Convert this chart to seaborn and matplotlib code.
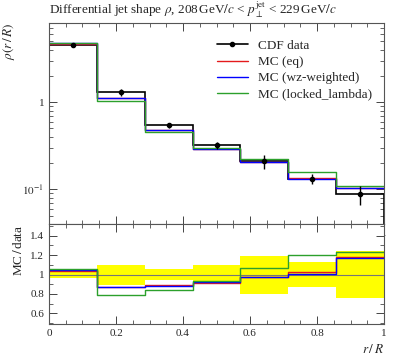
import numpy as np
import pandas as pd
import matplotlib
matplotlib.use("Agg")
import matplotlib.pyplot as plt
import seaborn as sns
from matplotlib.ticker import MultipleLocator, FuncFormatter, LogLocator

# bin edges in r/R
edges = [0.0, 1 / 7, 2 / 7, 3 / 7, 4 / 7, 5 / 7, 6 / 7, 1.0]

# CDF data and errors
data_val = [4.52, 1.30, 0.544, 0.320, 0.210, 0.132, 0.0877]
data_err = [0.14, 0.13, 0.033, 0.032, 0.040, 0.017, 0.021]

# MC predictions
mc_eq = [4.70, 1.13, 0.484, 0.291, 0.204, 0.136, 0.104]
mc_wz = [4.75, 1.13, 0.479, 0.294, 0.204, 0.133, 0.103]
mc_locked = [4.79, 1.03, 0.457, 0.298, 0.225, 0.158, 0.108]

# data uncertainty band in the ratio panel
ratio_lo = [0.965, 0.89, 0.94, 0.91, 0.80, 0.87, 0.76]
ratio_hi = [1.035, 1.10, 1.06, 1.10, 1.19, 1.13, 1.24]

mc_names = ["MC (eq)", "MC (wz-weighted)", "MC (locked_lambda)"]
mc_colors = ["#e41a1c", "#0000ff", "#2ca02c"]

sns.set_style("ticks")
plt.rcParams["font.family"] = ["Liberation Serif", "DejaVu Serif"]
plt.rcParams["mathtext.fontset"] = "stix"
plt.rcParams["font.size"] = 9

edges = np.array(edges)
centers = 0.5 * (edges[:-1] + edges[1:])
data_val = np.array(data_val)
data_err = np.array(data_err)


def steps_frame(vals, name):
    v = list(vals) + [vals[-1]]
    return pd.DataFrame({"x": edges, "y": v, "sample": name})


fig = plt.figure(figsize=(3.97, 3.58), dpi=100)
ax = fig.add_axes([0.1234, 0.374, 0.844, 0.562])
rax = fig.add_axes([0.1234, 0.095, 0.844, 0.279], sharex=ax)

# main panel
main_df = pd.concat([steps_frame(v, n) for v, n in zip([mc_eq, mc_wz, mc_locked], mc_names)])
sns.lineplot(data=main_df, x="x", y="y", hue="sample", palette=mc_colors,
             drawstyle="steps-post", lw=1.0, ax=ax, legend=False, estimator=None)
ax.stairs(data_val, edges, color="black", lw=1.2)
ax.errorbar(centers, data_val, yerr=data_err, fmt="o", color="black", ms=3, lw=1)
ax.set_yscale("log")
ax.set_ylim(0.04, 8.1)
ax.set_xlim(0, 1)

handles = [plt.Line2D([], [], color="black", marker="o", ms=3, lw=1.2)]
handles += [plt.Line2D([], [], color=c, lw=1.0) for c in mc_colors]
ax.legend(handles, ["CDF data"] + mc_names, loc="upper right", frameon=False,
          bbox_to_anchor=(1.0, 0.975), handlelength=2.3, labelspacing=0.3, fontsize=9.5)

ax.set_ylabel(r"$\rho(r\,/\,R)$", loc="top", fontsize=9.5)
ax.set_title(r"Differential jet shape $\rho$, 208$\,$GeV$/c$ < $p_\perp^{\rm jet}$ < 229$\,$GeV$/c$",
             loc="left", fontsize=9.5, pad=6)
ax.yaxis.set_major_formatter(FuncFormatter(lambda v, p: "1" if abs(v - 1) < 1e-9 else (r"$10^{-1}$" if abs(v - 0.1) < 1e-9 else "")))
ax.yaxis.set_minor_locator(LogLocator(base=10, subs=np.arange(2, 10)))
ax.yaxis.set_minor_formatter(FuncFormatter(lambda v, p: ""))
plt.setp(ax.get_xticklabels(), visible=False)

# ratio panel
rax.fill_between(edges, ratio_lo + [ratio_lo[-1]], ratio_hi + [ratio_hi[-1]],
                 step="post", color="#ffff00", lw=0)
rax.axhline(1.0, color="#777777", lw=0.8)
ratio_df = pd.concat([steps_frame(np.array(v) / data_val, n)
                      for v, n in zip([mc_eq, mc_wz, mc_locked], mc_names)])
sns.lineplot(data=ratio_df, x="x", y="y", hue="sample", palette=mc_colors,
             drawstyle="steps-post", lw=1.0, ax=rax, legend=False, estimator=None)
rax.set_ylim(0.49, 1.52)
rax.set_xlim(0, 1)
rax.set_ylabel("MC$\\,/\\,$data", loc="top", fontsize=9.5)
rax.set_xlabel(r"$r\,/\,R$", loc="right", fontsize=9.5)
rax.yaxis.set_major_locator(MultipleLocator(0.2))
rax.yaxis.set_minor_locator(MultipleLocator(0.1))
rax.yaxis.set_major_formatter(FuncFormatter(lambda v, p: f"{v:g}"))
rax.xaxis.set_major_locator(MultipleLocator(0.2))
rax.xaxis.set_minor_locator(MultipleLocator(0.05))
rax.xaxis.set_major_formatter(FuncFormatter(lambda v, p: f"{v:g}"))

for a in (ax, rax):
    a.tick_params(which="both", direction="in", top=True, right=True, labelsize=8)
    a.tick_params(which="major", length=6, width=0.6)
    a.tick_params(which="minor", length=3, width=0.5)
    for s in a.spines.values():
        s.set_linewidth(0.8)
        s.set_color("#555555")

fig.savefig("out.png", dpi=100)
